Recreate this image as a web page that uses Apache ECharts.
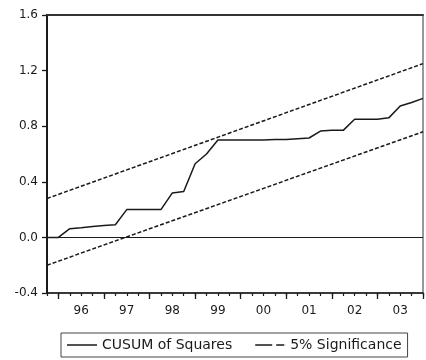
<!DOCTYPE html>
<html>
<head>
<meta charset="utf-8">
<script src="https://cdn.jsdelivr.net/npm/echarts@6/dist/echarts.min.js"></script>
<style>
  html, body { margin: 0; padding: 0; background: #fff; }
  #chart { width: 426px; height: 360px; }
</style>
</head>
<body>
<div id="chart"></div>
<script>
// Quarterly observations, 1995Q4 .. 2004Q1
const quarters = [
  '1995Q4',
  '1996Q1','1996Q2','1996Q3','1996Q4',
  '1997Q1','1997Q2','1997Q3','1997Q4',
  '1998Q1','1998Q2','1998Q3','1998Q4',
  '1999Q1','1999Q2','1999Q3','1999Q4',
  '2000Q1','2000Q2','2000Q3','2000Q4',
  '2001Q1','2001Q2','2001Q3','2001Q4',
  '2002Q1','2002Q2','2002Q3','2002Q4',
  '2003Q1','2003Q2','2003Q3','2003Q4',
  '2004Q1'
];

// CUSUM of squares statistic
const cusumSq = [
  0.00, 0.00, 0.063, 0.07, 0.078, 0.085, 0.091, 0.20,
  0.20, 0.20, 0.20, 0.32, 0.33, 0.53, 0.60, 0.70,
  0.70, 0.70, 0.70, 0.70, 0.705, 0.705, 0.71, 0.715,
  0.765, 0.77, 0.77, 0.85, 0.85, 0.85, 0.86, 0.945,
  0.97, 1.00
];

// 5% significance bounds (straight lines: first and last observation)
const upperStart = 0.28, upperEnd = 1.25;
const lowerStart = -0.20, lowerEnd = 0.76;

const yTicks = [-0.4, 0.0, 0.4, 0.8, 1.2, 1.6];

function bandLine(a, b) {
  return quarters.map((q, i) => i === 0 ? a : (i === quarters.length - 1 ? b : null));
}

const FONT = 'DejaVu Sans';
const INK = '#1a1a1a';

// legend keys: a solid stroke and a long-short dash
const ICON_SOLID = 'path://M0,0 H30 V1.5 H0 Z';
const ICON_DASH = 'path://M0,0 H17 V1.5 H0 Z M21,0 H29 V1.5 H21 Z M29.9,0 H30 V1.5 H29.9 Z';

const chart = echarts.init(document.getElementById('chart'), null, { renderer: 'canvas' });

chart.setOption({
  animation: false,
  backgroundColor: '#fff',
  grid: {
    left: 47, right: 3, top: 15, bottom: 67,
    show: true, borderColor: '#333', borderWidth: 1, backgroundColor: 'transparent'
  },
  legend: {
    left: 61, top: 333,
    orient: 'horizontal',
    padding: [5, 6, 5, 6],
    itemWidth: 30, itemHeight: 14, itemGap: 23,
    borderColor: '#444', borderWidth: 1,
    textStyle: { fontFamily: FONT, fontSize: 14, color: INK },
    data: [
      { name: 'CUSUM of Squares', icon: ICON_SOLID },
      { name: '5% Significance', icon: ICON_DASH }
    ]
  },
  xAxis: [
    {
      type: 'category',
      data: quarters,
      boundaryGap: false,
      position: 'bottom',
      axisLine: { onZero: false, lineStyle: { color: INK, width: 1.5 } },
      axisTick: {
        show: true, inside: false, length: 6,
        interval: (i) => i % 4 === 1,
        lineStyle: { color: INK, width: 1.3 }
      },
      axisLabel: {
        interval: (i) => i % 4 === 3,
        formatter: (v) => v.slice(2, 4),
        fontFamily: FONT, fontSize: 12, color: INK, margin: 12
      },
      splitLine: { show: false }
    },
    {
      // quarterly minor ticks
      type: 'category',
      data: quarters,
      boundaryGap: false,
      position: 'bottom',
      gridIndex: 0,
      axisLine: { show: false, onZero: false },
      axisTick: { show: true, length: 3, interval: 0, lineStyle: { color: INK, width: 1.2 } },
      axisLabel: { show: false },
      splitLine: { show: false }
    },
    {
      // heavier top frame
      type: 'category',
      data: quarters,
      boundaryGap: false,
      position: 'top',
      axisLine: { show: true, onZero: false, lineStyle: { color: '#333', width: 2 } },
      axisTick: { show: false },
      axisLabel: { show: false },
      splitLine: { show: false }
    }
  ],
  yAxis: {
    type: 'value',
    min: yTicks[0], max: yTicks[yTicks.length - 1], interval: 0.4,
    axisLine: { show: true, onZero: false, lineStyle: { color: INK, width: 2 } },
    axisTick: { show: true, length: 5, lineStyle: { color: INK, width: 1.3 } },
    axisLabel: {
      formatter: (v) => v.toFixed(1),
      fontFamily: FONT, fontSize: 12, color: INK, margin: 9
    },
    splitLine: { show: false }
  },
  series: [
    {
      name: 'CUSUM of Squares',
      type: 'line',
      data: cusumSq,
      symbol: 'none',
      lineStyle: { color: INK, width: 1.5 },
      itemStyle: { color: INK },
      z: 3,
      markLine: {
        silent: true,
        symbol: 'none',
        label: { show: false },
        lineStyle: { color: INK, width: 1.2, type: 'solid' },
        data: [{ yAxis: 0 }]
      }
    },
    {
      name: '5% Significance',
      type: 'line',
      data: bandLine(upperStart, upperEnd),
      connectNulls: true,
      symbol: 'none',
      lineStyle: { color: INK, width: 1.5, type: [4, 2] },
      itemStyle: { color: INK }
    },
    {
      name: '5% Significance',
      type: 'line',
      data: bandLine(lowerStart, lowerEnd),
      connectNulls: true,
      symbol: 'none',
      lineStyle: { color: INK, width: 1.5, type: [4, 2] },
      itemStyle: { color: INK }
    }
  ]
});
</script>
</body>
</html>
